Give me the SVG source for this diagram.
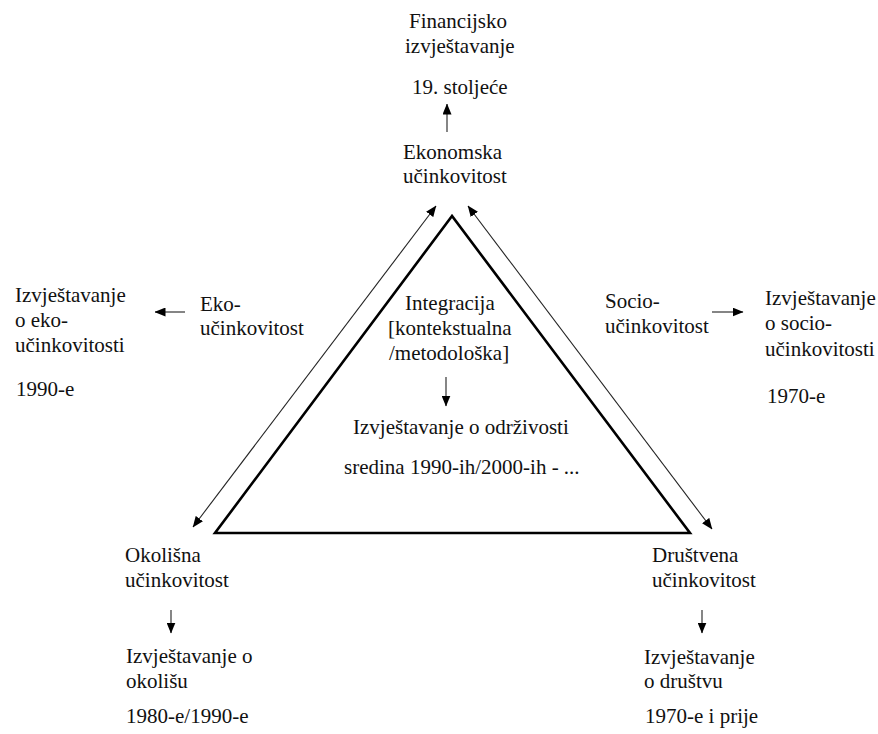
<svg xmlns="http://www.w3.org/2000/svg" width="878" height="734" viewBox="0 0 878 734">
<defs>
<marker id="ah" viewBox="0 0 11 9" markerUnits="userSpaceOnUse" markerWidth="11" markerHeight="9" refX="10.5" refY="4.5" orient="auto-start-reverse">
<path d="M0,0 L11,4.5 L0,9 z" fill="#000"/>
</marker>
</defs>
<style>
.c{stroke:#222;stroke-width:1.1;fill:none}
.tri{stroke:#000;stroke-width:2.6;fill:none;stroke-linejoin:miter}
</style>
<rect width="878" height="734" fill="#fff"/>
<g id="triangle"><polygon class="tri" points="452,216 215,533 690,533"/></g>
<g id="connectors">
<line class="c" x1="447" y1="132" x2="447" y2="104" marker-end="url(#ah)"/>
<line class="c" x1="193" y1="527" x2="436" y2="206" marker-start="url(#ah)" marker-end="url(#ah)"/>
<line class="c" x1="712" y1="529" x2="468" y2="206" marker-start="url(#ah)" marker-end="url(#ah)"/>
<line class="c" x1="185" y1="312" x2="155" y2="312" marker-end="url(#ah)"/>
<line class="c" x1="712" y1="312" x2="743" y2="312" marker-end="url(#ah)"/>
<line class="c" x1="446" y1="377" x2="446" y2="406" marker-end="url(#ah)"/>
<line class="c" x1="171" y1="610" x2="171" y2="633" marker-end="url(#ah)"/>
<line class="c" x1="702" y1="610" x2="702" y2="633" marker-end="url(#ah)"/>
</g>
<g font-family="Liberation Serif, Tinos, DejaVu Serif, serif" font-size="21" fill="#111">
<g id="financial">
<text x="409" y="28">Financijsko</text>
<text x="405" y="53">izvještavanje</text>
<text x="412" y="94">19. stoljeće</text>
</g>
<g id="economic">
<text x="403" y="159">Ekonomska</text>
<text x="403" y="183">učinkovitost</text>
</g>
<g id="eco-efficiency">
<text x="200" y="311">Eko-</text>
<text x="200" y="335">učinkovitost</text>
</g>
<g id="eco-reporting">
<text x="15" y="302">Izvještavanje</text>
<text x="15" y="327">o eko-</text>
<text x="15" y="352">učinkovitosti</text>
<text x="16" y="396">1990-e</text>
</g>
<g id="socio-efficiency">
<text x="605" y="308">Socio-</text>
<text x="605" y="333">učinkovitost</text>
</g>
<g id="socio-reporting">
<text x="765" y="305">Izvještavanje</text>
<text x="765" y="330">o socio-</text>
<text x="765" y="356">učinkovitosti</text>
<text x="767" y="403">1970-e</text>
</g>
<g id="integration">
<text x="405" y="310">Integracija</text>
<text x="388" y="335">[kontekstualna</text>
<text x="389" y="360">/metodološka]</text>
<text x="353" y="434">Izvještavanje o održivosti</text>
<text x="344" y="474">sredina 1990-ih/2000-ih - ...</text>
</g>
<g id="environmental">
<text x="125" y="562">Okolišna</text>
<text x="125" y="587">učinkovitost</text>
<text x="126" y="663">Izvještavanje o</text>
<text x="126" y="688">okolišu</text>
<text x="126" y="723">1980-e/1990-e</text>
</g>
<g id="social">
<text x="652" y="562">Društvena</text>
<text x="652" y="587">učinkovitost</text>
<text x="644" y="664">Izvještavanje</text>
<text x="644" y="688">o društvu</text>
<text x="645" y="723">1970-e i prije</text>
</g>
</g>
</svg>
